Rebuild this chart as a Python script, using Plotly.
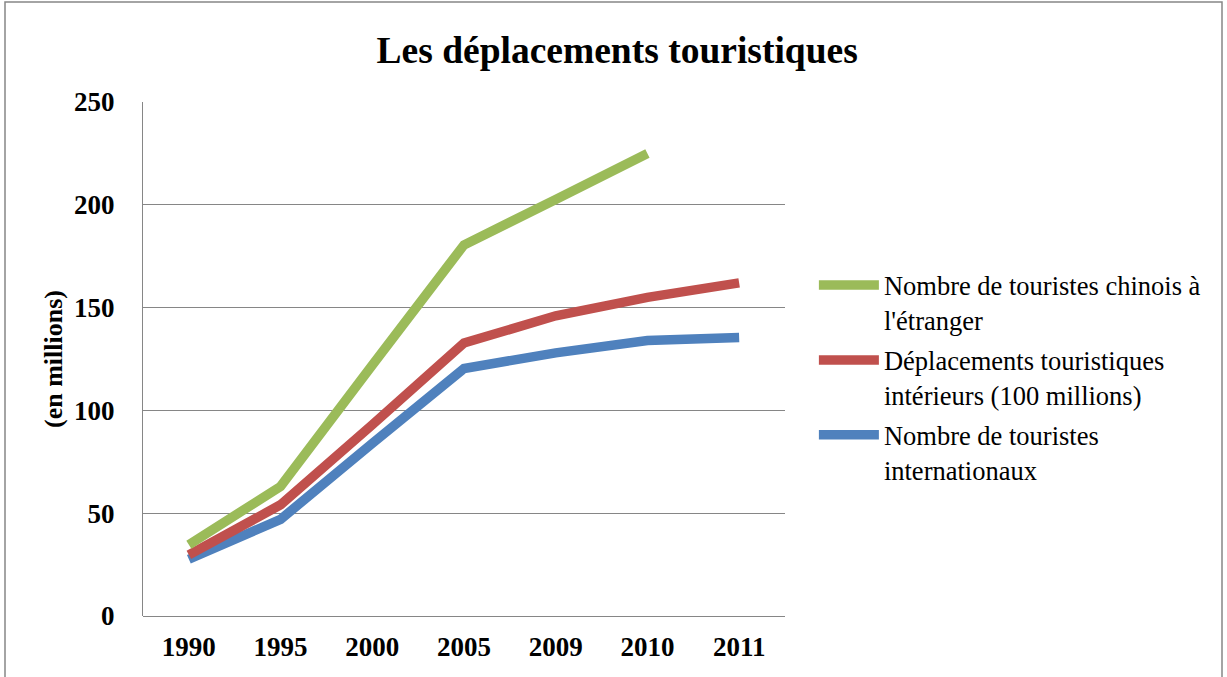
import plotly.graph_objects as go

years = ["1990", "1995", "2000", "2005", "2009", "2010", "2011"]
chinois_etranger = [34.7, 63, 122, 180.5, 202.6, 225, None]
deplacements_interieurs = [29.7, 54.1, 93, 132.8, 146, 155, 162]
touristes_internationaux = [27.6, 47, 84, 120.4, 128, 134, 135.5]

serif = "Liberation Serif, DejaVu Serif, serif"
names = [
    "Nombre de touristes chinois à<br>l'étranger",
    "Déplacements touristiques<br>intérieurs (100 millions)",
    "Nombre de touristes<br>internationaux",
]
colors = ["#9BBB59", "#C0504D", "#4F81BD"]

fig = go.Figure()
# draw order: blue, red, green (green on top); legend order green, red, blue
for rank, vals, name, col in [
    (3, touristes_internationaux, names[2], colors[2]),
    (2, deplacements_interieurs, names[1], colors[1]),
    (1, chinois_etranger, names[0], colors[0]),
]:
    fig.add_trace(go.Scatter(x=years, y=vals, name=name, mode="lines",
                             legendgroup=f"g{rank}", legendrank=rank,
                             line=dict(color=col, width=9.5), connectgaps=False))

fig.update_layout(
    width=1227, height=677,
    margin=dict(l=143, r=442, t=102, b=61),
    paper_bgcolor="white", plot_bgcolor="white",
    font=dict(family=serif, color="black"),
    title=dict(text="<b>Les déplacements touristiques</b>", x=0.503, xref="container",
               y=1 - 50 / 677, yref="container", xanchor="center", yanchor="middle",
               font=dict(size=37.5, family=serif)),
    legend=dict(x=1.045, y=0.69, xanchor="left", yanchor="top", traceorder="grouped",
                font=dict(size=26.5, family=serif), valign="top", tracegroupgap=3,
                itemwidth=60, bgcolor="rgba(0,0,0,0)"),
    showlegend=True,
)
fig.update_xaxes(type="category", range=[-0.5, 6.5], showgrid=False, showline=False, ticks="",
                 tickfont=dict(size=27, family=serif, weight="bold"),
                 ticklabelstandoff=12, automargin=False)
fig.update_yaxes(range=[0, 250], dtick=50, showgrid=True, gridcolor="#868686", gridwidth=1,
                 showline=True, linecolor="#868686", linewidth=1, zeroline=True,
                 zerolinecolor="#868686", zerolinewidth=1, ticks="",
                 tickfont=dict(size=27, family=serif, weight="bold"),
                 ticklabelstandoff=22, automargin=False,
                 title=dict(text="(en millions)", font=dict(size=26, family=serif, weight="bold"),
                            standoff=3))
fig.add_shape(type="rect", xref="paper", yref="paper",
              x0=(5 - 143) / 642, x1=(1222 - 143) / 642,
              y0=-0.3, y1=(616 - 2) / 514,
              line=dict(color="#868686", width=1.5), layer="below")

fig.write_html("out.html", config={"displayModeBar": False},
               post_script="document.body.style.margin='0';")
